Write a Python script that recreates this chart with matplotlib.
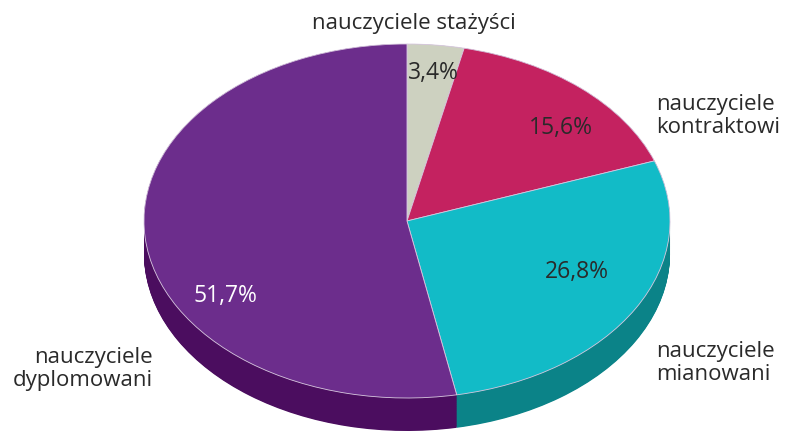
import numpy as np
import matplotlib.pyplot as plt

# slices, clockwise from the top
labels = ["nauczyciele stażyści", "nauczyciele\nkontraktowi",
          "nauczyciele\nmianowani", "nauczyciele\ndyplomowani"]
values = [3.4, 15.6, 26.8, 51.7]
pct_text = ["3,4%", "15,6%", "26,8%", "51,7%"]
top_colors = ["#CDD1C0", "#C42260", "#12BBC7", "#6C2D8C"]
side_colors = ["#9A9D8E", "#8E1846", "#0B8388", "#4B0D5F"]

W, H = 785, 432
cx, cy = 407, 221          # pixel centre of top ellipse
rx, ry = 263, 177          # ellipse radii in pixels
depth = 33                 # thickness in pixels
k = ry / rx

fig = plt.figure(figsize=(W / 100, H / 100), dpi=100)
ax = fig.add_axes([0, 0, 1, 1])


def px(x, y):
    # pixel position -> data coords (y squashed so the pie becomes an ellipse)
    return x, (H - y) / k


centre = px(cx, cy)
for d in np.arange(depth / k, 0, -1.0):
    ax.pie(values, colors=side_colors, startangle=90, counterclock=False,
           radius=rx, center=(centre[0], centre[1] - d),
           wedgeprops=dict(linewidth=0))
ax.pie(values, colors=top_colors, startangle=90, counterclock=False,
       radius=rx, center=centre,
       wedgeprops=dict(linewidth=0.6, edgecolor="#d8c8e0"))

ax.set_aspect("auto")
ax.set_xlim(0, W)
ax.set_ylim(0, H / k)
ax.axis("off")

font = "Open Sans"
txt = "#2a2a2a"
fs = 16

# category labels
ax.text(*px(414, 24), labels[0], ha="center", va="center", fontsize=fs,
        family=font, color=txt)
ax.text(*px(656, 116), labels[1], ha="left", va="center", fontsize=fs,
        family=font, color=txt, linespacing=1.1)
ax.text(*px(656, 363), labels[2], ha="left", va="center", fontsize=fs,
        family=font, color=txt, linespacing=1.1)
ax.text(*px(153, 369), labels[3], ha="right", va="center", fontsize=fs,
        family=font, color=txt, linespacing=1.1)

# percentages
pct_pos = [(433, 73), (561, 128), (577, 272), (225, 296)]
pct_col = [txt, txt, txt, "white"]
for s, (x, y), c in zip(pct_text, pct_pos, pct_col):
    ax.text(*px(x, y), s, ha="center", va="center", fontsize=16.5,
            family=font, color=c)

fig.savefig("out.png", dpi=100)
